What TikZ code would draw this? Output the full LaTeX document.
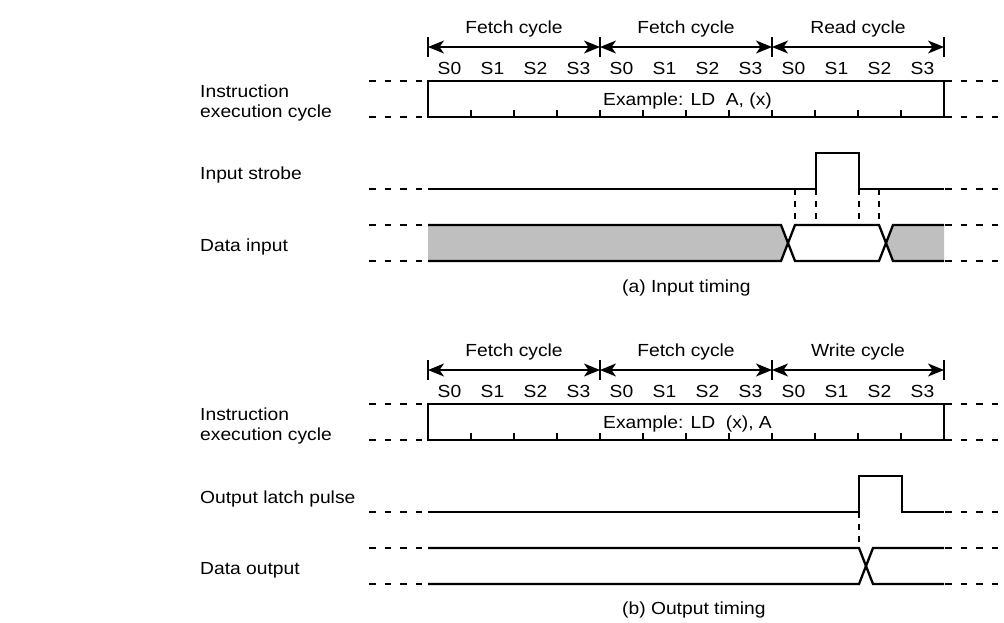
\documentclass[tikz,border=0pt]{standalone}
\usepackage{fontspec}
\setmainfont{Liberation Sans}[FakeStretch=1.1]
\usepackage{tikz}
\usetikzlibrary{arrows.meta}

\begin{document}
\begin{tikzpicture}[x=1pt,y=-1pt]
	\tikzstyle{sig}=[line width=2.3pt]
	\tikzstyle{stub}=[line width=2.3pt, dash pattern=on 6.5pt off 9pt]
	\tikzstyle{guide}=[line width=1.8pt, dash pattern=on 6pt off 6pt]
	\tikzstyle{lbl}=[anchor=base west, inner sep=0pt, font=\fontsize{17.5pt}{20pt}\selectfont]
	\tikzstyle{txt}=[anchor=base, inner sep=0pt, font=\fontsize{17.5pt}{20pt}\selectfont]
	\tikzstyle{span}=[line width=1.4pt, {Stealth[length=16pt,width=13pt,inset=4.5pt]}-{Stealth[length=16pt,width=13pt,inset=4.5pt]}]
	\colorlet{busgray}{black!25}
	\useasboundingbox (0,0) rectangle (1004,622);

	% cycle header, states and instruction box, (a) and (b)
	\foreach \p/\dy/\cyc/\ex in {a/0/Read cycle/{Example: LD\ \ A, (x)}, b/323/Write cycle/{Example: LD\ \ (x), A}}{
		\node[txt] (fetch1\p) at (514,33+\dy) {Fetch cycle};
		\node[txt] (fetch2\p) at (686,33+\dy) {Fetch cycle};
		\node[txt] (last\p)   at (858,33+\dy) {\cyc};
		\foreach \x in {428,600,772,944}{
			\draw[line width=1.4pt] (\x,37+\dy) -- (\x,57+\dy);
			}
		\draw[span] (428,47+\dy) -- (600,47+\dy);
		\draw[span] (600,47+\dy) -- (772,47+\dy);
		\draw[span] (772,47+\dy) -- (944,47+\dy);
		\foreach \k in {0,...,11}{
			\pgfmathtruncatemacro\s{mod(\k,4)}
			\node[txt] (s\p\k) at (449.5+43*\k,74+\dy) {S\s};
			}
		\node[lbl] (instr\p) at (200,97+\dy) {Instruction};
		\node[lbl] (exec\p)  at (200,117+\dy) {execution cycle};
		\draw[sig] (428,81+\dy) rectangle (944,117+\dy);
		\foreach \k in {1,...,11}{
			\draw[sig] (428+43*\k,110+\dy) -- (428+43*\k,117+\dy);
			}
		\node[lbl] (ex\p) at (603,105+\dy) {\ex};
		\foreach \y in {81,117,189,225,261}{
			\draw[stub] (369,\y+\dy) -- (422,\y+\dy);
			\draw[stub] (945,\y+\dy) -- (1000,\y+\dy);
			}
		}

	% (a) input timing
	\node[lbl] (strobe) at (200,179) {Input strobe};
	\node[lbl] (din)    at (200,251) {Data input};
	\fill[busgray] (428,225) -- (781,225) -- (788,243) -- (781,261) -- (428,261) -- cycle;
	\fill[busgray] (944,225) -- (893,225) -- (886,243) -- (893,261) -- (944,261) -- cycle;
	\draw[sig] (428,189) -- (816,189) -- (816,153) -- (859,153) -- (859,189) -- (944,189);
	\draw[sig] (428,225) -- (781,225) -- (795,261) -- (879,261) -- (893,225) -- (944,225);
	\draw[sig] (428,261) -- (781,261) -- (795,225) -- (879,225) -- (893,261) -- (944,261);
	\foreach \x in {795,816,859,879}{
		\draw[guide] (\x,189) -- (\x,225);
		}
	\node[lbl] (capa) at (622,292) {(a) Input timing};

	% (b) output timing
	\node[lbl] (latch) at (200,503) {Output latch pulse};
	\node[lbl] (dout)  at (200,574) {Data output};
	\draw[sig] (428,512) -- (859,512) -- (859,476) -- (902,476) -- (902,512) -- (944,512);
	\draw[sig] (428,548) -- (859,548) -- (873,584) -- (944,584);
	\draw[sig] (428,584) -- (859,584) -- (873,548) -- (944,548);
	\draw[guide] (859,512) -- (859,548);
	\node[lbl] (capb) at (622,614) {(b) Output timing};
\end{tikzpicture}
\end{document}
